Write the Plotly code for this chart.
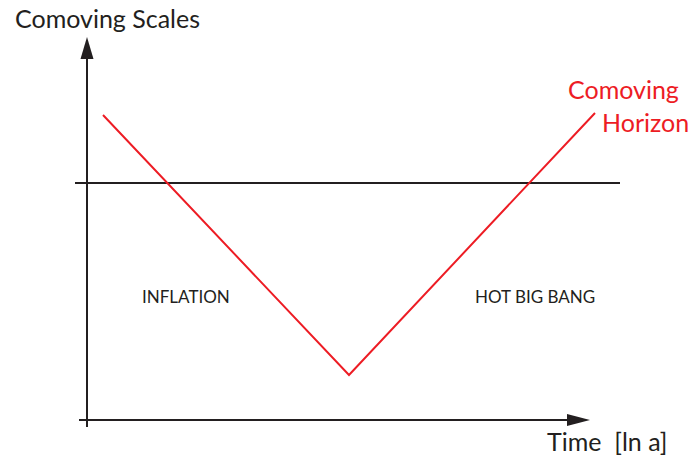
import plotly.graph_objects as go

# Data (chart units: origin at axis crossing)
time_ln_a = [16, 262, 508]
comoving_horizon = [305, 45, 307]
hubble_scale_x = [-12, 533]
hubble_scale_y = [237, 237]

AX = "#231f20"
RED = "#ed1c24"
FONT = "Lato"

fig = go.Figure()
fig.add_trace(go.Scatter(x=hubble_scale_x, y=hubble_scale_y, mode="lines",
                         line=dict(color=AX, width=2), hoverinfo="skip", showlegend=False))
fig.add_trace(go.Scatter(x=time_ln_a, y=comoving_horizon, mode="lines",
                         line=dict(color=RED, width=2), hoverinfo="skip", showlegend=False))

shapes = [
    # y axis
    dict(type="line", x0=0, y0=-7, x1=0, y1=362, line=dict(color=AX, width=2)),
    dict(type="path", path="M -6.5 361 L 6.5 361 L 0 383 Z", fillcolor=AX, line=dict(width=0)),
    # x axis
    dict(type="line", x0=-8, y0=0, x1=481, y1=0, line=dict(color=AX, width=2)),
    dict(type="path", path="M 480 6 L 480 -6 L 503 0 Z", fillcolor=AX, line=dict(width=0)),
]
for s in shapes:
    s.update(xref="x", yref="y", layer="above")

ann = [
    dict(x=-74, y=402, text="Comoving Scales", xanchor="left", yanchor="middle",
         font=dict(size=25, color=AX, family=FONT)),
    dict(x=458, y=-21, text="Time\u00a0 [ln a]", xanchor="left", yanchor="middle",
         font=dict(size=25, color=AX, family=FONT)),
    dict(x=479, y=331, text="Comoving", xanchor="left", yanchor="middle",
         font=dict(size=25, color=RED, family=FONT)),
    dict(x=604, y=298, text="Horizon", xanchor="right", yanchor="middle",
         font=dict(size=25, color=RED, family=FONT)),
    dict(x=53, y=124, text="INFLATION", xanchor="left", yanchor="middle",
         font=dict(size=17, color=AX, family=FONT)),
    dict(x=386, y=124, text="HOT BIG BANG", xanchor="left", yanchor="middle",
         font=dict(size=17, color=AX, family=FONT)),
]
for a in ann:
    a.update(xref="x", yref="y", showarrow=False)

fig.update_layout(
    width=693, height=458,
    margin=dict(l=0, r=0, t=0, b=0),
    paper_bgcolor="white", plot_bgcolor="white",
    shapes=shapes, annotations=ann,
    xaxis=dict(range=[-87, 606], visible=False, fixedrange=True),
    yaxis=dict(range=[-38, 420], visible=False, fixedrange=True),
)
fig.write_html("out.html", config=dict(displayModeBar=False),
               post_script="document.body.style.margin='0';document.body.style.overflow='hidden';")
